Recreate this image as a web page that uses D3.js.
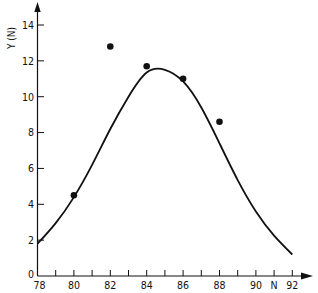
<!DOCTYPE html>
<html>
<head>
<meta charset="utf-8">
<script src="https://d3js.org/d3.v7.min.js"></script>
<style>
body { margin: 0; background: #fff; }
text { font-family: "DejaVu Sans Condensed", "Liberation Sans Narrow", sans-serif; fill: #111; }
</style>
</head>
<body>
<div id="chart"></div>
<script>
// measured points
var pointN = [80, 82, 84, 86, 88];
var pointY = [4.5, 12.8, 11.7, 11.0, 8.6];
// fitted curve
var curveN = [78, 79, 80, 81, 82, 83, 84, 85, 86, 87, 88, 89, 90, 91, 92];
var curveY = [1.8, 2.95, 4.4, 6.2, 8.2, 10.0, 11.35, 11.5, 10.85, 9.4, 7.4, 5.35, 3.6, 2.25, 1.2];
var xTicks = [79, 80, 81, 82, 83, 84, 85, 86, 87, 88, 89, 90, 91, 92];
var xLabels = [78, 80, 82, 84, 86, 88, 90, 92];
var yTicks = [2, 4, 6, 8, 10, 12, 14];

var width = 318, height = 293;
var x = d3.scaleLinear().domain([78, 92]).range([37.5, 292.3]);
var y = d3.scaleLinear().domain([0, 14]).range([276, 25]);

var svg = d3.select("#chart")
    .append("svg")
    .attr("width", width)
    .attr("height", height);

var ink = "#111";

// axes lines with arrows
svg.append("line")
    .attr("x1", x(78)).attr("y1", y(0))
    .attr("x2", 305).attr("y2", y(0))
    .style("stroke", ink).style("stroke-width", 1.2);
svg.append("path")
    .attr("d", "M313," + y(0) + "L301," + (y(0) - 3.5) + "L301," + (y(0) + 3.5) + "Z")
    .style("fill", ink);
svg.append("line")
    .attr("x1", x(78)).attr("y1", y(0))
    .attr("x2", x(78)).attr("y2", 10)
    .style("stroke", ink).style("stroke-width", 1.2);
svg.append("path")
    .attr("d", "M" + x(78) + ",2L" + (x(78) - 3.2) + ",12L" + (x(78) + 3.2) + ",12Z")
    .style("fill", ink);

// x ticks, pointing up
svg.selectAll(".xt")
    .data(xTicks)
    .enter()
    .append("line")
    .attr("x1", function (d) { return x(d); })
    .attr("x2", function (d) { return x(d); })
    .attr("y1", y(0))
    .attr("y2", y(0) - 6)
    .style("stroke", ink).style("stroke-width", 1);

svg.selectAll(".xl")
    .data(xLabels)
    .enter()
    .append("text")
    .attr("x", function (d) { return d === 78 ? x(d) + 2 : x(d); })
    .attr("y", 289)
    .attr("text-anchor", "middle")
    .style("font-size", "10.5px")
    .text(function (d) { return d; });

svg.append("text")
    .attr("x", x(91))
    .attr("y", 289)
    .attr("text-anchor", "middle")
    .style("font-size", "10.5px")
    .text("N");

// y ticks, pointing right
svg.selectAll(".yt")
    .data(yTicks)
    .enter()
    .append("line")
    .attr("x1", x(78))
    .attr("x2", x(78) + 6.5)
    .attr("y1", function (d) { return y(d); })
    .attr("y2", function (d) { return y(d); })
    .style("stroke", ink).style("stroke-width", 1);

svg.selectAll(".yl")
    .data(yTicks)
    .enter()
    .append("text")
    .attr("x", 34)
    .attr("y", function (d) { return y(d) + 3.8; })
    .attr("text-anchor", "end")
    .style("font-size", "10.5px")
    .text(function (d) { return d; });

svg.append("text")
    .attr("x", 34)
    .attr("y", y(0) + 2)
    .attr("text-anchor", "end")
    .style("font-size", "10.5px")
    .text("0");

svg.append("text")
    .attr("transform", "translate(14.5,38) rotate(-90)")
    .attr("text-anchor", "middle")
    .style("font-size", "10px")
    .text("Y (N)");

// curve
var line = d3.line()
    .x(function (d) { return x(d[0]); })
    .y(function (d) { return y(d[1]); })
    .curve(d3.curveNatural);

svg.append("path")
    .datum(curveN.map(function (n, i) { return [n, curveY[i]]; }))
    .attr("d", line)
    .style("fill", "none")
    .style("stroke", ink)
    .style("stroke-width", 1.8);

svg.selectAll("circle")
    .data(pointN.map(function (n, i) { return [n, pointY[i]]; }))
    .enter()
    .append("circle")
    .attr("cx", function (d) { return x(d[0]); })
    .attr("cy", function (d) { return y(d[1]); })
    .attr("r", 3.3)
    .style("fill", ink);
</script>
</body>
</html>
